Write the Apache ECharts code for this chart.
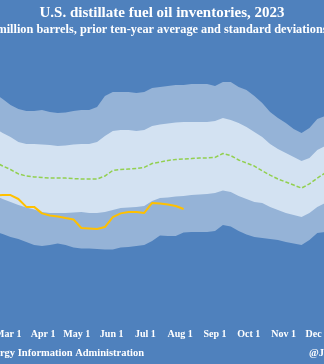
<!DOCTYPE html>
<html>
<head>
<meta charset="utf-8">
<script src="https://cdn.jsdelivr.net/npm/echarts@6/dist/echarts.min.js"></script>
<style>
  html, body { margin: 0; padding: 0; background: #4f81bd; overflow: hidden; width: 324px; height: 364px; }
  #chart { position: absolute; left: -80px; top: 0; width: 484px; height: 364px; }
</style>
</head>
<body>
<div id="chart"></div>
<script>
// ---- data (million barrels) ----
const weeks = ['2023-01-06','2023-01-13','2023-01-20','2023-01-27','2023-02-03','2023-02-10','2023-02-17',
  '2023-02-24','2023-03-03','2023-03-10','2023-03-17','2023-03-24','2023-03-31',
  '2023-04-07','2023-04-14','2023-04-21','2023-04-28',
  '2023-05-05','2023-05-12','2023-05-19','2023-05-26',
  '2023-06-02','2023-06-09','2023-06-16','2023-06-23','2023-06-30',
  '2023-07-07','2023-07-14','2023-07-21','2023-07-28',
  '2023-08-04','2023-08-11','2023-08-18','2023-08-25',
  '2023-09-01','2023-09-08','2023-09-15','2023-09-22','2023-09-29',
  '2023-10-06','2023-10-13','2023-10-20','2023-10-27',
  '2023-11-03','2023-11-10','2023-11-17','2023-11-24',
  '2023-12-01','2023-12-08','2023-12-15','2023-12-22','2023-12-29'];

const plus2sd = [172,171,170,169,168,166.5,164.5,
  162.1,159.5,157.8,156.9,156.9,157.3, 156.5,156.1,156.3,156.9, 157.3,157.3,158.6,163.4,
  165.1,165.1,165.1,164.7,165.1, 166.8,167.3,167.7,168.1, 168.1,168.5,168.5,168.5,
  167.7,169.4,169.4,167.3,166.0, 163.4,160.4,156.5,153.9, 151.7,149.2,147.4,149.6,
  153.5,154.8,157,160,163];

const plus1sd = [154,153.5,153,152.5,152,151,149.5,
  147.4,145.7,143.6,142.7,142.7,142.5, 142.3,141.8,142.1,142.5, 142.7,142.7,143.6,146.1,
  148.3,148.7,148.7,148.3,148.7, 150.5,151.1,151.5,152.0, 152.2,152.2,152.2,152.2,
  152.6,153.9,153.0,151.7,150.0, 147.9,145.7,142.7,140.5, 138.8,137.1,135.4,136.7,
  140.1,141.8,144,146.5,149];

const average = [138,138.5,138.8,138.5,137.8,136.8,135,
  133.2,131.7,129.8,128.9,128.5,128.3, 128.0,128.0,128.0,127.8, 127.6,127.6,127.6,128.9,
  131.3,131.7,131.9,132.1,132.6, 134.3,134.9,135.6,136.0, 136.2,136.4,136.7,136.7,
  136.9,138.6,137.7,135.8,134.5, 133.2,131.1,129.3,127.6, 126.3,125.0,123.7,125.5,
  128.0,130.2,132,134,136];

const minus1sd = [121,122,122.5,122.5,122,121.5,120.5,
  119.0,117.7,116.4,115.3,114.5,113.4, 113.0,113.0,113.0,113.2, 113.4,113.0,113.0,113.4,
  114.3,115.1,115.3,115.6,116.0, 118.1,119.4,119.6,120.1, 120.3,120.7,120.9,121.2,
  121.6,122.7,122.0,120.3,119.0, 117.7,117.3,115.6,114.3, 113.0,112.1,111.2,113.0,
  115.6,117.3,119,120.5,122];

const minus2sd = [104,105.5,107,107.5,107,106,105,
  103.9,102.6,101.8,100.5,99.2,98.7, 99.2,99.8,99.2,98.1, 97.7,97.7,97.5,97.2,
  97.2,98.1,98.3,98.7,99.2, 100.9,103.3,103.1,103.1, 104.6,104.8,104.8,104.8,
  105.2,107.8,107.1,105.2,103.7, 102.6,102.2,101.8,101.3, 100.5,99.8,99.2,101.3,
  104.3,104.8,106,107,108];

const stocks2023 = [118.0,116.5,117.6,120.3,122.5,121.0,120.5,
  120.7,120.7,119.0,115.6,115.6,112.8, 111.9,111.5,110.8,110.2, 106.5,106.3,106.1,106.9,
  111.2,112.8,113.4,113.4,113.0, 117.3,117.1,116.6,116.0, 114.7];

const monthStarts = ['2023-01-01','2023-02-01','2023-03-01','2023-04-01','2023-05-01','2023-06-01',
  '2023-07-01','2023-08-01','2023-09-01','2023-10-01','2023-11-01','2023-12-01'];
const monthLabels = ['Jan 1','Feb 1','Mar 1','Apr 1','May 1','Jun 1','Jul 1','Aug 1','Sep 1','Oct 1','Nov 1','Dec 1'];

// ---- build ----
const ts = s => { const p = s.split('-'); return Date.UTC(+p[0], +p[1] - 1, +p[2]); };
const pair = arr => arr.map((v, i) => [ts(weeks[i]), v]);
const tickValues = monthStarts.map(ts);

const BG = '#4f81bd', MID = '#95b3d7', LIGHT = '#d3e2f2';
const FONT = '"Liberation Serif", "DejaVu Serif", serif';

function band(name, arr, color) {
  return { name, type: 'line', data: pair(arr), showSymbol: false, silent: true,
    lineStyle: { width: 0, color }, itemStyle: { color },
    areaStyle: { color, opacity: 1, origin: 'start' } };
}

const chart = echarts.init(document.getElementById('chart'));
chart.setOption({
  animation: false,
  backgroundColor: BG,
  textStyle: { fontFamily: FONT },
  title: [
    { text: 'U.S. distillate fuel oil inventories, 2023', left: 'center', top: 6, padding: 0,
      textStyle: { color: '#ffffff', fontFamily: FONT, fontSize: 15, fontWeight: 'bold' } },
    { text: 'million barrels, prior ten-year average and standard deviations', left: 'center', top: 24, padding: 0,
      textStyle: { color: '#ffffff', fontFamily: FONT, fontSize: 12.3, fontWeight: 'bold' } },
    { text: 'Source: U.S. Energy Information Administration', right: 260, top: 348, padding: 0,
      textStyle: { color: '#ffffff', fontFamily: FONT, fontSize: 10.5, fontWeight: 'bold' } },
    { text: '@JKempEnergy', left: 389, top: 348, padding: 0,
      textStyle: { color: '#ffffff', fontFamily: FONT, fontSize: 10.5, fontWeight: 'bold' } }
  ],
  grid: { left: 22, width: 409, top: 11, bottom: 42, containLabel: false },
  xAxis: {
    type: 'value', min: ts('2023-01-01'), max: ts('2023-12-31'),
    axisLine: { show: false }, axisTick: { show: false }, splitLine: { show: false },
    axisLabel: {
      customValues: tickValues, margin: 7, color: '#ffffff', fontFamily: FONT, fontSize: 10, fontWeight: 'bold',
      showMinLabel: true, showMaxLabel: true,
      formatter: v => { const i = tickValues.indexOf(v); return i >= 0 ? monthLabels[i] : ''; }
    }
  },
  yAxis: { type: 'value', min: 66, max: 200, show: false, splitLine: { show: false } },
  series: [
    band('+2 sd', plus2sd, MID),
    band('+1 sd', plus1sd, LIGHT),
    band('-1 sd', minus1sd, MID),
    band('-2 sd', minus2sd, BG),
    { name: '10-year average', type: 'line', data: pair(average), showSymbol: false,
      lineStyle: { color: '#92d050', width: 1.5, type: [4, 2] } },
    { name: '2023', type: 'line', data: pair(stocks2023), showSymbol: false,
      lineStyle: { color: '#ffc000', width: 2 } }
  ]
});
</script>
</body>
</html>
